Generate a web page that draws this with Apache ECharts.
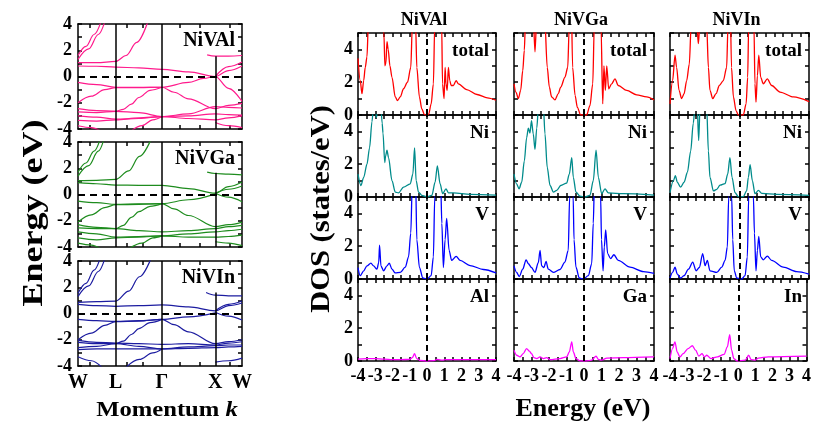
<!DOCTYPE html>
<html><head><meta charset="utf-8">
<script src="https://cdn.jsdelivr.net/npm/echarts@6/dist/echarts.min.js"></script>
<style>html,body{margin:0;padding:0;background:#fff}#c{width:814px;height:422px}</style>
</head><body><div id="c"></div>
<script>
// ---------- band structure data: k-path W-L-Γ-X-W, energies in eV ----------
const kPts = [0, 0.707, 1.573, 2.573, 3.073];
const kLabels = ['W', 'L', 'Γ', 'X', 'W'];
const kTicks = [0.225, 0.918, 1.218, 1.911, 2.286, 2.848];
const xLineTop = [1.55, 1.65, 1.6];

const bandsNiVAl = [
  [[0,1.6],[0.15,2.3],[0.3,3.2],[0.45,4.4]],
  [[0,1.3],[0.2,2.1],[0.38,3.2],[0.52,4.4]],
  [[0,1.05],[0.35,1.05],[0.707,1.15],[0.9,1.6],[1.1,2.6],[1.32,4.3]],
  [[0,0.8],[0.35,0.78],[0.707,0.72],[1.14,0.65],[1.573,0.55],[2.07,0.35],[2.573,0.0],[2.82,0.45],[3.073,0.8]],
  [[2.42,1.65],[2.573,1.55],[2.82,1.55],[3.073,1.6]],
  [[2.573,0.0],[2.82,0.75],[3.073,1.1]],
  [[0,-0.45],[0.35,-0.62],[0.707,-0.82],[1.14,-0.82],[1.573,-0.82],[2.07,-0.45],[2.35,-0.15],[2.573,0.0],[2.82,-0.9],[3.073,-1.9]],
  [[0,-2.0],[0.25,-1.5],[0.5,-1.0],[0.707,-0.85],[1.14,-0.85],[1.573,-0.82],[1.8,-1.2],[2.07,-1.7],[2.573,-2.45],[2.82,-2.2],[3.073,-2.05]],
  [[0,-2.45],[0.35,-2.6],[0.707,-2.65],[0.85,-2.5],[1.0,-2.1],[1.14,-1.6],[1.35,-1.05],[1.573,-0.82]],
  [[0,-2.7],[0.35,-2.75],[0.707,-2.65],[1.14,-2.75],[1.573,-3.05],[2.07,-2.85],[2.573,-2.3],[2.82,-2.35],[3.073,-2.4]],
  [[0,-3.0],[0.35,-3.1],[0.707,-3.25],[1.14,-3.2],[1.573,-3.05],[2.07,-3.0],[2.573,-2.85],[2.82,-2.9],[3.073,-2.95]],
  [[0,-3.35],[0.35,-3.4],[0.707,-3.3],[1.14,-3.15],[1.573,-3.05],[2.07,-3.2],[2.573,-3.3],[2.82,-3.15],[3.073,-3.0]],
  [[0,-3.75],[0.25,-3.9],[0.45,-4.2]],
  [[0.95,-4.3],[1.2,-3.75],[1.4,-3.3],[1.573,-3.05]],
  [[2.573,-3.5],[2.82,-3.75],[3.073,-3.9]]
];
const bandsNiVGa = [
  [[0,1.7],[0.15,2.4],[0.3,3.3],[0.43,4.4]],
  [[0,1.4],[0.2,2.2],[0.38,3.3],[0.5,4.4]],
  [[0,1.05],[0.35,1.08],[0.707,1.15],[0.95,1.8],[1.15,2.9],[1.38,4.3]],
  [[0,0.9],[0.35,0.82],[0.707,0.72],[1.14,0.7],[1.573,0.7],[2.07,0.45],[2.573,0.1],[2.82,0.6],[3.073,0.95]],
  [[2.42,1.7],[2.573,1.6],[2.82,1.55],[3.073,1.5]],
  [[2.573,0.1],[2.82,0.4],[3.073,0.65]],
  [[2.573,0.1],[2.82,-0.2],[3.073,-0.55]],
  [[0,-0.5],[0.35,-0.62],[0.707,-0.75],[1.14,-0.72],[1.573,-0.7],[2.07,-0.4],[2.573,0.05]],
  [[0,-2.1],[0.25,-1.55],[0.5,-1.0],[0.707,-0.78],[1.14,-0.75],[1.573,-0.7],[1.8,-1.1],[2.07,-1.6],[2.573,-2.45],[2.82,-2.3],[3.073,-2.1]],
  [[0,-2.3],[0.35,-2.5],[0.707,-2.6],[0.85,-2.35],[1.0,-1.75],[1.14,-1.3],[1.35,-0.9],[1.573,-0.7]],
  [[0,-2.55],[0.35,-2.6],[0.707,-2.6],[1.14,-2.75],[1.573,-2.85],[2.07,-2.75],[2.573,-2.6],[2.82,-2.45],[3.073,-2.35]],
  [[0,-2.85],[0.35,-3.0],[0.707,-3.25],[1.14,-3.2],[1.573,-3.15],[2.07,-3.0],[2.573,-2.85],[2.82,-2.75],[3.073,-2.65]],
  [[0,-3.3],[0.35,-3.45],[0.707,-3.3],[1.14,-3.25],[1.573,-3.15],[2.07,-3.25],[2.573,-3.25],[2.82,-3.2],[3.073,-3.1]],
  [[0,-3.7],[0.25,-3.85],[0.45,-4.2]],
  [[0.9,-4.3],[1.2,-3.7],[1.4,-3.3],[1.573,-3.15]],
  [[2.573,-3.6],[2.82,-3.7],[3.073,-3.9]]
];
const bandsNiVIn = [
  [[0,1.55],[0.15,2.3],[0.3,3.3],[0.43,4.4]],
  [[0,1.3],[0.2,2.1],[0.38,3.2],[0.52,4.4]],
  [[0,0.85],[0.35,0.9],[0.707,0.95],[0.95,1.7],[1.15,2.8],[1.38,4.3]],
  [[0,0.7],[0.35,0.6],[0.707,0.55],[1.14,0.6],[1.573,0.65],[2.07,0.5],[2.573,0.2],[2.82,0.6],[3.073,0.8]],
  [[2.4,1.6],[2.573,1.4],[2.82,1.35],[3.073,1.35]],
  [[2.573,0.2],[2.82,0.7],[3.073,0.95]],
  [[2.573,0.1],[2.82,-0.2],[3.073,-0.5]],
  [[0,-0.45],[0.35,-0.55],[0.707,-0.6],[1.14,-0.55],[1.573,-0.45],[2.07,-0.25],[2.573,0.05]],
  [[0,-2.0],[0.25,-1.5],[0.5,-0.9],[0.707,-0.62],[1.14,-0.58],[1.573,-0.45],[1.8,-0.85],[2.07,-1.4],[2.573,-2.3],[2.82,-2.15],[3.073,-2.0]],
  [[0,-2.2],[0.35,-2.3],[0.707,-2.3],[0.85,-2.1],[1.0,-1.6],[1.14,-1.15],[1.35,-0.7],[1.573,-0.45]],
  [[0,-2.05],[0.35,-2.2],[0.707,-2.25],[1.14,-2.3],[1.573,-2.35],[2.07,-2.3],[2.573,-2.4],[2.82,-2.25],[3.073,-2.15]],
  [[0,-2.6],[0.35,-2.5],[0.707,-2.3],[1.14,-2.5],[1.573,-2.7],[2.07,-2.55],[2.573,-2.45],[2.82,-2.4],[3.073,-2.4]],
  [[0,-2.75],[0.35,-2.7],[0.707,-2.7],[1.14,-2.7],[1.573,-2.7],[2.07,-2.65],[2.573,-2.6],[2.82,-2.55],[3.073,-2.5]],
  [[0,-3.3],[0.25,-3.6],[0.45,-4.1]],
  [[0.85,-4.3],[1.15,-3.5],[1.4,-3.0],[1.573,-2.7]],
  [[2.573,-3.7],[2.82,-3.6],[3.073,-3.4]]
];

// ---------- DOS data: [energy (eV), DOS (states/eV)] ----------
const totalNiVAl = [[-4,3.45],[-3.87,2.1],[-3.77,1.3],[-3.67,2.1],[-3.58,2.9],[-3.48,3.55],[-3.4,5.5],[-3.2,8],[-2.8,8],[-2.6,6],[-2.5,5],[-2.44,3.0],[-2.38,3.2],[-2.32,4.47],[-2.25,4.0],[-2.15,3.0],[-2.03,2.3],[-1.84,1.1],[-1.71,0.88],[-1.55,1.1],[-1.36,1.6],[-1.13,2.0],[-0.94,2.9],[-0.85,5.5],[-0.75,8],[-0.66,5.5],[-0.59,2.9],[-0.44,1.1],[-0.3,0.37],[-0.15,0.02],[0,0],[0.1,0.05],[0.24,0.68],[0.37,1.9],[0.45,5.5],[0.65,8],[0.85,5.5],[0.9,1.9],[0.99,1.0],[1.05,2.9],[1.1,1.9],[1.17,1.5],[1.24,2.9],[1.32,2.1],[1.4,1.8],[1.53,1.8],[1.69,2.1],[1.82,1.9],[2.3,1.55],[2.9,1.25],[3.5,1.05],[4,0.9]];
const niNiVAl = [[-4,1.4],[-3.83,0.7],[-3.67,1.2],[-3.48,2.0],[-3.33,3.0],[-3.19,4.6],[-3.1,5.5],[-3.0,5.3],[-2.93,4.85],[-2.85,5.5],[-2.7,6],[-2.6,4.5],[-2.55,3.9],[-2.45,2.1],[-2.4,2.5],[-2.32,2.85],[-2.23,2.4],[-2.03,1.0],[-1.84,0.3],[-1.65,0.25],[-1.36,0.6],[-0.97,0.8],[-0.82,1.4],[-0.72,3.0],[-0.63,1.0],[-0.49,0.3],[-0.3,0.1],[0,0],[0.28,0.1],[0.47,0.9],[0.6,1.9],[0.76,0.8],[0.91,0.2],[1.1,0.5],[1.24,0.25],[1.53,0.25],[2.5,0.16],[4,0.12]];
const vNiVAl = [[-4,0.7],[-3.87,0.2],[-3.67,0.5],[-3.48,0.8],[-3.25,0.97],[-3.1,0.8],[-2.9,0.6],[-2.8,1.0],[-2.75,2.06],[-2.67,0.8],[-2.52,0.5],[-2.32,0.8],[-2.19,0.97],[-2.03,0.6],[-1.84,0.37],[-1.55,0.4],[-1.26,0.72],[-1.07,1.35],[-0.94,2.8],[-0.85,6],[-0.75,9],[-0.66,6],[-0.59,2.4],[-0.44,0.7],[-0.24,0.06],[0,0],[0.24,0.2],[0.37,1.35],[0.45,5],[0.62,9],[0.8,5.5],[0.86,3.4],[0.95,0.7],[1.05,2.4],[1.14,3.7],[1.28,1.75],[1.43,1.13],[1.69,1.38],[1.92,1.13],[2.5,0.82],[3.27,0.58],[4,0.37]];
const alNiVAl = [[-4,0.12],[-3.5,0.15],[-3,0.15],[-2.5,0.12],[-2,0.08],[-1.5,0.08],[-1,0.1],[-0.85,0.2],[-0.72,0.45],[-0.6,0.15],[-0.4,0.03],[0,0],[0.4,0.02],[0.6,0.1],[0.9,0.05],[1.1,0.08],[1.5,0.08],[4,0.08]];

const totalNiVGa = [[-4,1.9],[-3.89,1.4],[-3.75,1.0],[-3.62,1.5],[-3.5,2.7],[-3.41,3.95],[-3.35,5.5],[-3.1,8],[-2.9,6],[-2.8,3.85],[-2.7,6],[-2.5,8],[-2.25,6],[-2.1,2.9],[-1.98,1.7],[-1.85,1.1],[-1.66,0.92],[-1.47,1.3],[-1.33,1.7],[-1.09,2.3],[-0.93,2.9],[-0.84,5.5],[-0.74,8],[-0.65,2.9],[-0.51,1.2],[-0.38,0.47],[-0.19,0],[0.15,0],[0.34,0.57],[0.5,1.9],[0.59,5.5],[0.78,8],[0.97,5.5],[1.07,0.68],[1.14,3.0],[1.22,1.5],[1.3,3.0],[1.41,1.6],[1.58,1.9],[1.77,2.2],[1.96,1.8],[2.44,1.5],[3.01,1.23],[3.58,1.1],[4,0.92]];
const niNiVGa = [[-4,1.4],[-3.85,0.8],[-3.71,0.5],[-3.56,0.9],[-3.41,2.2],[-3.28,3.6],[-3.18,4.2],[-3.09,3.9],[-3.0,4.65],[-2.9,3.85],[-2.8,2.9],[-2.7,4.2],[-2.6,5.5],[-2.45,7],[-2.32,5.5],[-2.23,3.85],[-2.1,1.8],[-1.94,0.7],[-1.75,0.3],[-1.56,0.4],[-1.33,0.7],[-0.99,0.85],[-0.84,1.4],[-0.7,2.4],[-0.61,1.2],[-0.46,0.3],[-0.23,0.05],[0.06,0],[0.34,0.1],[0.53,1.0],[0.69,2.85],[0.82,1.2],[1.01,0.2],[1.2,0.5],[1.39,0.25],[2.25,0.2],[4,0.12]];
const vNiVGa = [[-4,0.8],[-3.85,0.4],[-3.7,0.15],[-3.5,0.6],[-3.31,1.17],[-3.18,0.93],[-3.0,0.7],[-2.8,0.4],[-2.61,1.0],[-2.51,1.75],[-2.42,0.8],[-2.29,0.7],[-2.17,1.07],[-2.04,0.6],[-1.75,0.4],[-1.37,0.58],[-1.09,1.03],[-0.9,1.75],[-0.82,5],[-0.72,9],[-0.62,5],[-0.57,2.4],[-0.46,0.72],[-0.27,0.06],[-0.04,0],[0.25,0.2],[0.44,0.93],[0.53,3.4],[0.6,6],[0.77,9],[0.95,5],[1.0,2.4],[1.09,0.5],[1.16,1.95],[1.24,3.0],[1.35,1.55],[1.52,1.24],[1.71,1.48],[1.96,1.13],[2.63,0.72],[3.39,0.45],[4,0.35]];
const gaNiVGa = [[-4,0.65],[-3.85,0.35],[-3.66,0.25],[-3.47,0.45],[-3.28,0.76],[-3.12,0.6],[-3.0,0.45],[-2.86,0.2],[-2.7,0.15],[-2.51,0.25],[-2.32,0.15],[-2.13,0.2],[-1.94,0.08],[-1.37,0.15],[-0.99,0.25],[-0.84,0.55],[-0.7,1.17],[-0.61,0.55],[-0.46,0.15],[-0.23,0],[0.15,0],[0.44,0.05],[0.69,0.3],[0.82,0.1],[1.01,0.05],[1.3,0.18],[2.25,0.2],[4,0.25]];

const totalNiVIn = [[-4,0.68],[-3.85,2.1],[-3.71,3.65],[-3.62,2.9],[-3.48,1.5],[-3.33,1.0],[-3.19,1.3],[-3.04,2.1],[-2.89,3.1],[-2.78,5.5],[-2.6,8],[-2.45,5.5],[-2.37,4.35],[-2.28,5.5],[-2.1,8],[-1.89,5.5],[-1.79,2.9],[-1.7,1.5],[-1.54,1.0],[-1.35,1.3],[-1.16,1.8],[-0.93,2.1],[-0.74,2.9],[-0.66,5.5],[-0.55,8],[-0.46,2.9],[-0.35,1.1],[-0.2,0.27],[-0.07,0],[0.22,0],[0.38,0.68],[0.47,2.3],[0.53,5.5],[0.68,8],[0.83,5.5],[0.89,1.9],[0.95,0.78],[1.03,2.4],[1.11,3.65],[1.22,2.3],[1.37,1.9],[1.6,2.2],[1.85,1.8],[2.33,1.4],[3.1,1.1],[4,0.82]];
const niNiVIn = [[-4,0.27],[-3.81,0.98],[-3.69,1.3],[-3.58,0.9],[-3.39,0.6],[-3.19,0.9],[-3.0,1.5],[-2.81,2.8],[-2.66,4.5],[-2.56,5.5],[-2.45,6],[-2.35,3.45],[-2.27,5.5],[-2.1,7],[-1.89,5.5],[-1.79,2.8],[-1.7,1.2],[-1.5,0.37],[-1.31,0.47],[-1.12,0.72],[-0.83,0.82],[-0.68,1.4],[-0.55,2.4],[-0.43,1.2],[-0.26,0.27],[-0.07,0.02],[0.22,0.02],[0.41,0.37],[0.51,1.2],[0.61,1.97],[0.74,1.0],[0.89,0.2],[1.09,0.4],[1.28,0.22],[2.14,0.16],[4,0.1]];
const vNiVIn = [[-4,0.06],[-3.85,0.4],[-3.71,0.72],[-3.58,0.3],[-3.39,0.06],[-3.19,0.2],[-2.94,0.6],[-2.69,1.03],[-2.5,0.5],[-2.31,0.7],[-2.12,1.55],[-1.98,0.82],[-1.85,1.13],[-1.7,0.5],[-1.31,0.4],[-1.02,0.72],[-0.83,1.13],[-0.7,1.95],[-0.62,5],[-0.55,9],[-0.45,5],[-0.39,2.4],[-0.3,0.5],[-0.16,0.06],[0.12,0],[0.32,0.2],[0.45,1.35],[0.53,5],[0.65,9],[0.8,5],[0.86,2.8],[0.95,0.5],[1.03,1.75],[1.11,2.6],[1.22,1.35],[1.37,1.17],[1.6,1.4],[1.85,1.13],[2.52,0.72],[3.29,0.45],[4,0.3]];
const inNiVIn = [[-4,0.15],[-3.85,0.76],[-3.71,1.17],[-3.58,0.55],[-3.42,0.25],[-3.23,0.45],[-2.94,0.76],[-2.69,0.93],[-2.5,0.66],[-2.31,0.3],[-2.12,0.45],[-1.98,0.25],[-1.85,0.35],[-1.6,0.15],[-1.22,0.25],[-0.83,0.4],[-0.64,0.86],[-0.5,1.6],[-0.39,0.66],[-0.26,0.15],[-0.07,0],[0.41,0.05],[0.61,0.35],[0.76,0.08],[0.99,0.05],[1.18,0.18],[1.76,0.25],[4,0.3]];

const compounds = ['NiVAl', 'NiVGa', 'NiVIn'];
const bandSets = [bandsNiVAl, bandsNiVGa, bandsNiVIn];
const bandColors = ['#ff1a8c', '#1e8c1e', '#1c1ca0'];
const dosSets = [
  [totalNiVAl, niNiVAl, vNiVAl, alNiVAl],
  [totalNiVGa, niNiVGa, vNiVGa, gaNiVGa],
  [totalNiVIn, niNiVIn, vNiVIn, inNiVIn]
];
const dosLabels = [['total','Ni','V','Al'], ['total','Ni','V','Ga'], ['total','Ni','V','In']];
const dosColors = ['#ff0000', '#008b8b', '#0000ff', '#ff00ff'];

// ---------- layout ----------
const F = 'Liberation Serif';
const AX = {color: '#000', width: 1.5};
const bandRect = {left: 78, width: 164, tops: [24, 142, 261], height: 105};
const dosRect = {lefts: [358, 514, 670], widths: [138, 140, 139], tops: [33, 115, 197, 279], height: 82};

const grids = [], xAxes = [], yAxes = [], series = [], graphics = [];
const lbl = (size, extra) => Object.assign({color: '#000', fontFamily: F, fontWeight: 'bold', fontSize: size}, extra || {});

function addPanel(rect, xc, yc) {
  const gi = grids.length;
  grids.push(rect);
  const xi = xAxes.length, yi = yAxes.length;
  const base = {gridIndex: gi, type: 'value', splitLine: {show: false}, axisLine: {show: true, onZero: false, lineStyle: AX}};
  const mk = (c, pos, showLabel) => Object.assign({}, base, {
    position: pos, min: c.min, max: c.max, interval: c.interval,
    axisTick: Object.assign({show: true, inside: true, length: 4, lineStyle: AX}, c.tick || {}),
    minorTick: c.minor || {show: false},
    axisLabel: showLabel ? c.label : {show: false}
  });
  xAxes.push(mk(xc, 'bottom', true));
  xAxes.push(mk(xc, 'top', false));
  yAxes.push(mk(yc, 'left', true));
  yAxes.push(mk(yc, 'right', false));
  return {xi, yi};
}
function addText(x, y, text, size, opts) {
  graphics.push(Object.assign({type: 'text', x, y, silent: true, style: {
    text, font: 'bold ' + size + 'px "' + F + '"', fill: '#000',
    align: (opts && opts.align) || 'center', verticalAlign: 'middle'}}, (opts && opts.el) || {}));
}

// band panels
bandSets.forEach((bands, p) => {
  const top = bandRect.tops[p];
  const showX = p === 2;
  const ax = addPanel({left: bandRect.left, width: bandRect.width, top, height: bandRect.height},
    {min: 0, max: kPts[4],
     tick: {customValues: kTicks},
     label: lbl(20, {show: showX, margin: 7, customValues: kPts,
       formatter: v => kLabels[kPts.findIndex(k => Math.abs(k - v) < 1e-6)] || ''})},
    {min: -4, max: 4, interval: 2,
     minor: {show: true, splitNumber: 2, length: 4, lineStyle: AX},
     label: lbl(18, {margin: 6, showMinLabel: true, showMaxLabel: true})});
  bands.forEach((b, i) => {
    const s = {type: 'line', xAxisIndex: ax.xi, yAxisIndex: ax.yi, data: b, showSymbol: false,
      smooth: 0.35, smoothMonotone: 'x', silent: true, clip: true,
      lineStyle: {color: bandColors[p], width: 1.2}};
    if (i === 0) {
      s.markLine = {silent: true, symbol: ['none', 'none'], label: {show: false},
        lineStyle: {color: '#000', width: 1.5, type: 'solid'},
        data: [
          {yAxis: 0, lineStyle: {color: '#000', width: 2, type: [7, 5]}},
          [{coord: [kPts[1], -4]}, {coord: [kPts[1], 4]}],
          [{coord: [kPts[2], -4]}, {coord: [kPts[2], 4]}],
          [{coord: [kPts[3], -4]}, {coord: [kPts[3], xLineTop[p]]}]
        ]};
    }
    series.push(s);
  });
  addText(bandRect.left + bandRect.width - 7, top + 17, compounds[p], 20, {align: 'right'});
});

// DOS panels
dosSets.forEach((col, c) => {
  const left = dosRect.lefts[c], width = dosRect.widths[c];
  col.forEach((curve, r) => {
    const top = dosRect.tops[r];
    const ax = addPanel({left, width, top, height: dosRect.height},
      {min: -4, max: 4, interval: 1,
       minor: {show: true, splitNumber: 2, length: 4, lineStyle: AX},
       label: lbl(18, {show: r === 3, margin: 6, showMinLabel: true, showMaxLabel: true})},
      {min: 0, max: 5, interval: 1,
       label: lbl(18, {show: c === 0, margin: 5, showMinLabel: true, showMaxLabel: true,
         formatter: v => (v % 2 === 0 && v < 5) ? String(v) : ''})});
    series.push({type: 'line', xAxisIndex: ax.xi, yAxisIndex: ax.yi, data: curve, showSymbol: false,
      smooth: 0.3, smoothMonotone: 'x', silent: true, clip: true,
      lineStyle: {color: dosColors[r], width: 1.3},
      markLine: {silent: true, symbol: ['none', 'none'], label: {show: false},
        data: [{xAxis: 0, lineStyle: {color: '#000', width: 2, type: [6, 4]}}]}});
    addText(left + width - 7, top + 18, dosLabels[c][r], 19, {align: 'right'});
  });
  addText(left + width / 2 - 3, 20, compounds[c], 18);
});

// axis titles
addText(34, 213, 'Energy (eV)', 30, {el: {rotation: Math.PI / 2, scaleX: 1.2}});
addText(322, 209, 'DOS (states/eV)', 28, {el: {rotation: Math.PI / 2, scaleX: 1.09}});
addText(583, 409, 'Energy (eV)', 26);
graphics.push({type: 'text', x: 167, y: 410, silent: true, scaleX: 1.12, style: {
  text: '{a|Momentum }{b|k}', align: 'center', verticalAlign: 'middle', fill: '#000',
  rich: {a: {font: 'bold 22px "' + F + '"', fill: '#000'}, b: {font: 'italic bold 22px "' + F + '"', fill: '#000'}}}});

const chart = echarts.init(document.getElementById('c'), null, {renderer: 'canvas'});
chart.setOption({
  animation: false,
  backgroundColor: '#fff',
  grid: grids,
  xAxis: xAxes,
  yAxis: yAxes,
  series: series,
  graphic: {elements: graphics}
});
</script>
</body></html>
